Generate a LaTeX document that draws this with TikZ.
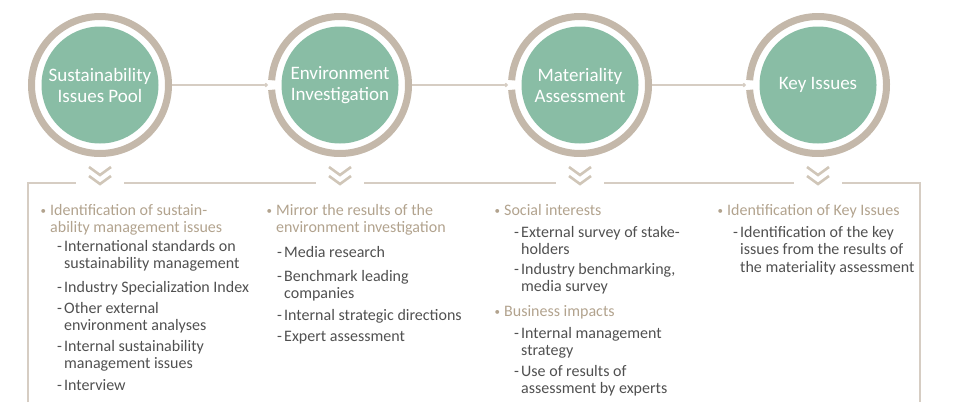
\documentclass[tikz,border=0pt]{standalone}
\usepackage{fontspec}
\setmainfont{Carlito}
\usetikzlibrary{positioning,arrows.meta}
\tikzstyle{flowchart} = [x = 1pt, y = -1pt]
\definecolor{ringColor}{RGB}{196,184,170}
\definecolor{discColor}{RGB}{137,189,165}
\definecolor{lineColor}{RGB}{214,205,195}
\definecolor{chevronColor}{RGB}{208,198,184}
\definecolor{headColor}{RGB}{178,163,142}
\definecolor{bodyColor}{RGB}{80,80,80}
\tikzstyle{ringNode} = [circle, minimum size = 144pt, inner sep = 0pt]
\tikzstyle{discNode} = [circle, fill = discColor, minimum size = 117pt, inner sep = 0pt, text = white, align = center, font = \fontsize{19}{21}\selectfont]
\tikzstyle{ringLine} = [draw = ringColor, line width = 7pt]
\tikzstyle{linkLine} = [draw = lineColor, line width = 1.2pt, -{Circle[length = 4pt]}]
\tikzstyle{frameLine} = [draw = lineColor, line width = 1.2pt]
\tikzstyle{chevronLine} = [draw = chevronColor, line width = 2.6pt]
\tikzstyle{headText} = [anchor = base west, inner sep = 0pt, text = headColor, font = \fontsize{16}{17.5}\selectfont]
\tikzstyle{bodyText} = [headText, text = bodyColor]
\tikzstyle{dotText} = [headText, font = \fontsize{11}{12}\selectfont]
\newcommand{\stepCircle}[3]{
  \node [ringNode] (#1) at (#2, 85) {};
  \node [discNode] (#1Disc) at (#1.center) {#3};
}
\newcommand{\ringFull}[1]{\draw [ringLine] (#1.center) circle (68.5pt);}
\newcommand{\ringGap}[1]{\draw [ringLine] ([shift = {(184:68.5pt)}]#1.center) arc (184:536:68.5pt);}
\newcommand{\chevronMark}[2]{
  \foreach \dy in {0, 9} {
    \draw [chevronLine] (#1 - 11, #2 + \dy) -- (#1, #2 + \dy + 8) -- (#1 + 11, #2 + \dy);
  }
}
\newcommand{\lines}[1]{\begin{tabular}[t]{@{}l@{}}#1\end{tabular}}
\newcommand{\headItem}[4]{
  \node [dotText] (#1Dot) at (#2 - 9.5, #3 - 1) {\textbullet};
  \node [headText] (#1) at (#2, #3) {\lines{#4}};
}
\newcommand{\subItem}[4]{
  \node [bodyText] (#1Dash) at (#2, #3) {-};
  \node [bodyText] (#1) at (#2 + 7, #3) {\lines{#4}};
}

\begin{document}
\begin{tikzpicture}[flowchart]
  \useasboundingbox (0, 0) rectangle (957, 402);
  % steps
  \stepCircle{pool}{100}{Sustainability\\Issues Pool}
  \stepCircle{env}{340}{Environment\\Investigation}
  \stepCircle{mat}{580}{Materiality\\Assessment}
  \stepCircle{key}{818}{Key Issues}
  \ringFull{pool}
  \foreach \step in {env, mat, key} {
    \ringGap{\step}
  }
  \draw [linkLine] (pool.east) -- (env.west);
  \draw [linkLine] (env.east) -- (mat.west);
  \draw [linkLine] (mat.east) -- (key.west);
  % frame and chevrons
  \draw [frameLine] (28, 402) -- (28, 183) -- (76, 183);
  \draw [frameLine] (124, 183) -- (316, 183);
  \draw [frameLine] (364, 183) -- (556, 183);
  \draw [frameLine] (604, 183) -- (794, 183);
  \draw [frameLine] (842, 183) -- (920, 183) -- (920, 402);
  \foreach \cx in {100, 340, 580, 818} {
    \chevronMark{\cx}{167}
  }
  % column 1
  \headItem{poolHead}{50}{215}{Identification of sustain-\\ability management issues}
  \subItem{poolA}{57}{251}{International standards on\\sustainability management}
  \subItem{poolB}{57}{292}{Industry Specialization Index}
  \subItem{poolC}{57}{313}{Other external\\environment analyses}
  \subItem{poolD}{57}{351}{Internal sustainability\\management issues}
  \subItem{poolE}{57}{390}{Interview}
  % column 2
  \headItem{envHead}{276}{215}{Mirror the results of the\\environment investigation}
  \subItem{envA}{277}{257}{Media research}
  \subItem{envB}{277}{281}{Benchmark leading\\companies}
  \subItem{envC}{277}{320}{Internal strategic directions}
  \subItem{envD}{277}{341}{Expert assessment}
  % column 3
  \headItem{matHead}{504}{215}{Social interests}
  \subItem{matA}{514}{237}{External survey of stake-\\holders}
  \subItem{matB}{514}{274}{Industry benchmarking,\\media survey}
  \headItem{matHeadB}{504}{316}{Business impacts}
  \subItem{matC}{514}{338}{Internal management\\strategy}
  \subItem{matD}{514}{376}{Use of results of\\assessment by experts}
  % column 4
  \headItem{keyHead}{727}{215}{Identification of Key Issues}
  \subItem{keyA}{733}{237}{Identification of the key\\issues from the results of\\the materiality assessment}
\end{tikzpicture}
\end{document}
